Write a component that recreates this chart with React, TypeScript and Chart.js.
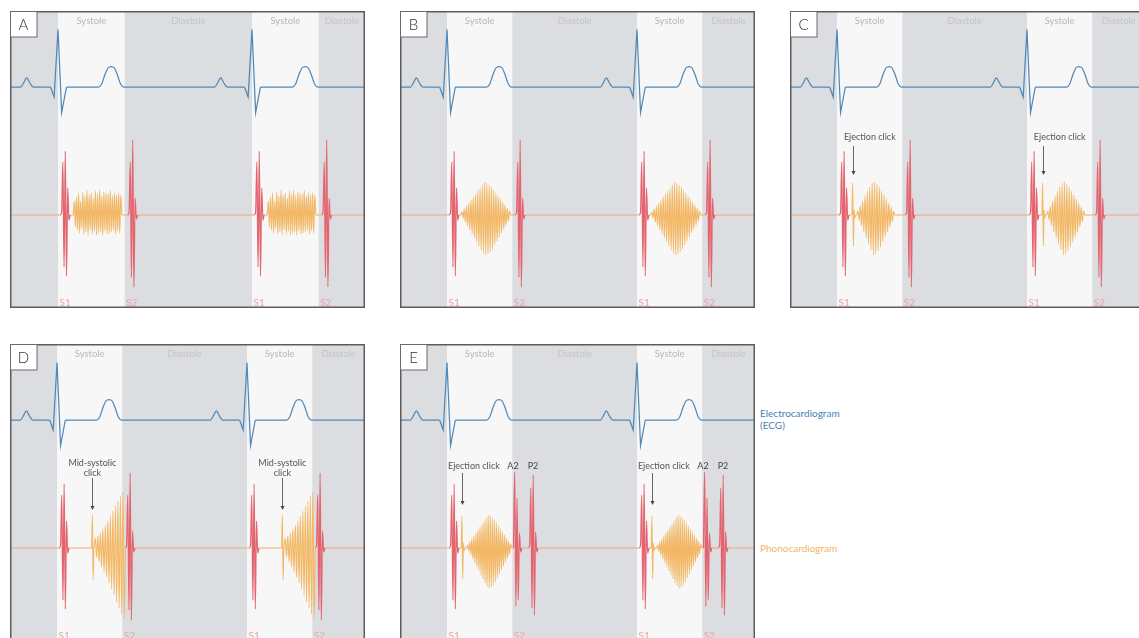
import React, { useEffect, useRef } from "react";
import { Chart, registerables } from "chart.js";
Chart.register(...registerables);

// ---------- time base: ms, 0 = first R peak ----------
const R_PEAK_TIMES = [0, 800];
const SYSTOLE_LENGTH = 275;
const TIME_RANGE_STD = [-198, 1297];
const TIME_RANGE_A = [-198, 1266];

// ---------- ECG template (relative to each R peak) ----------
const ECG_P_TIMES = [-154, -142, -129, -116, -102];
const ECG_P_VALUES = [0, 4, 9.2, 4, 0];
const ECG_QRS_TIMES = [-31, -16, 0, 15, 35];
const ECG_QRS_VALUES = [0, -10, 57.5, -25.5, 0];
const ECG_T_TIMES = [166, 180, 193, 206, 219, 232, 245, 258, 272];
const ECG_T_VALUES = [0, 3, 12, 19, 20.5, 19, 12, 3, 0];

// ---------- phonocardiogram sample sequences ----------
const S1_WAVE = [0, 3, 53, -52, 64, -61, 27, -5, 0];
const S2_WAVE = [0, 3, 53, -62, 75, -72, 17, -4, 0];
const A2_WAVE = [0, 76, -58, 50, -52, 15, -4, 0];
const P2_WAVE = [0, 3, 60, -60, 73, -67, 16, -4, 0];
const EJECTION_CLICK_WAVE = [0, 32, -31, 5, -3, 0];
const MID_SYSTOLIC_CLICK_WAVE = [0, 33, -32, 0];
const MURMUR_PLATEAU = [0, 14, -12, 18, -15, 22, -18, 14, -13, 23, -19, 19, -17, 25, -20, 20, -15, 22, -19, 17, -16, 24, -20, 21, -18, 25, -17, 19, -20, 23, -16, 22, -19, 21, -18, 25, -17, 19, -15, 22, -19, 20, -16, 22, -18, 20, 0];
const MURMUR_DIAMOND = [0, 3, -3, 6, -7, 9, -11, 12, -15, 15, -19, 18, -23, 21, -27, 24, -31, 27, -35, 30, -38, 33, -40, 32, -39, 30, -37, 28, -34, 25, -30, 22, -26, 19, -22, 16, -18, 13, -14, 10, -10, 7, -6, 4, 0];
const MURMUR_DIAMOND_SHORT = [0, 4, -5, 9, -11, 14, -17, 19, -23, 24, -29, 28, -35, 32, -40, 33, -39, 31, -36, 28, -32, 24, -27, 20, -22, 16, -17, 12, -12, 8, -7, 4, 0];
const MURMUR_CRESCENDO = [0, 10, -9, 12, -14, 15, -19, 19, -24, 23, -29, 27, -35, 32, -41, 37, -47, 42, -54, 47, -60, 52, -66, 56, -70, 0];

const WAVES: Record<string, number[]> = {
  S1: S1_WAVE, S2: S2_WAVE, A2: A2_WAVE, P2: P2_WAVE,
  ejectionClick: EJECTION_CLICK_WAVE, midClick: MID_SYSTOLIC_CLICK_WAVE,
  plateau: MURMUR_PLATEAU, diamond: MURMUR_DIAMOND,
  diamondShort: MURMUR_DIAMOND_SHORT, crescendo: MURMUR_CRESCENDO,
};
const HEART_SOUNDS = ["S1", "S2", "A2", "P2"];

// [wave, start ms after R, sample step ms]
const BURSTS_A: [string, number, number][] = [["S1", 10, 5], ["plateau", 63, 4.35], ["S2", 288, 5]];
const BURSTS_B: [string, number, number][] = [["S1", 10, 5], ["diamond", 58, 4.77], ["S2", 288, 5]];
const BURSTS_C: [string, number, number][] = [["S1", 10, 5], ["ejectionClick", 63, 3], ["diamondShort", 83, 5], ["S2", 288, 5]];
const BURSTS_D: [string, number, number][] = [["S1", 10, 5], ["midClick", 146, 3], ["crescendo", 156, 5.28], ["S2", 288, 5]];
const BURSTS_E: [string, number, number][] = [["S1", 10, 5], ["ejectionClick", 60, 3], ["diamond", 83, 4.3], ["A2", 280, 5], ["P2", 343, 5]];

// annotations: text time, text level (phono units), arrow time / from / to
type Note = { lines: string[]; t: number; align: CanvasTextAlign; v: number; arrowT?: number; arrowFrom?: number; arrowTo?: number; dark?: boolean };
const NOTES_C: Note[] = [{ lines: ["Ejection click"], t: 29, align: "left", v: 78, arrowT: 66, arrowFrom: 69, arrowTo: 40 }];
const NOTES_D: Note[] = [{ lines: ["Mid-systolic", "click"], t: 149, align: "center", v: 85, arrowT: 149, arrowFrom: 70, arrowTo: 38 }];
const NOTES_E: Note[] = [
  { lines: ["Ejection click"], t: 4, align: "left", v: 82, arrowT: 63, arrowFrom: 75, arrowTo: 43 },
  { lines: ["A2"], t: 278, align: "center", v: 82, dark: true },
  { lines: ["P2"], t: 362, align: "center", v: 82, dark: true },
];

// ---------- styles ----------
const BAND_GREY = "#dcdde0";
const SYSTOLE_FILL = "#f7f7f7";
const ECG_COLOR = "#5088b8";
const PHONO_BASE = "#f0a870";
const SOUND_RED = "#e3646f";
const MURMUR_ORANGE = "#f2b866";
const FONT = "Lato, 'Noto Sans', sans-serif";
const W = 355;
const H = 297;

type PanelSpec = { letter: string; left: number; top: number; range: number[]; bursts: [string, number, number][]; notes: Note[] };
const PANELS: PanelSpec[] = [
  { letter: "A", left: 10, top: 11, range: TIME_RANGE_A, bursts: BURSTS_A, notes: [] },
  { letter: "B", left: 400, top: 11, range: TIME_RANGE_STD, bursts: BURSTS_B, notes: [] },
  { letter: "C", left: 790, top: 11, range: TIME_RANGE_STD, bursts: BURSTS_C, notes: NOTES_C },
  { letter: "D", left: 10, top: 344, range: TIME_RANGE_STD, bursts: BURSTS_D, notes: NOTES_D },
  { letter: "E", left: 400, top: 344, range: TIME_RANGE_STD, bursts: BURSTS_E, notes: NOTES_E },
];

function buildDatasets(spec: PanelSpec) {
  const far0 = -1000, far1 = 2500;
  const ecgSmooth: any[] = [{ x: far0, y: 0 }];
  const ecgQrs: any[] = [];
  R_PEAK_TIMES.forEach((r, i) => {
    ECG_P_TIMES.forEach((t, k) => ecgSmooth.push({ x: r + t, y: ECG_P_VALUES[k] }));
    ecgSmooth.push({ x: r + ECG_QRS_TIMES[0], y: 0 });
    ecgSmooth.push({ x: r, y: null });
    ecgSmooth.push({ x: r + ECG_QRS_TIMES[ECG_QRS_TIMES.length - 1], y: 0 });
    ECG_T_TIMES.forEach((t, k) => ecgSmooth.push({ x: r + t, y: ECG_T_VALUES[k] }));
    if (i > 0) ecgQrs.push({ x: r - 400, y: null });
    ECG_QRS_TIMES.forEach((t, k) => ecgQrs.push({ x: r + t, y: ECG_QRS_VALUES[k] }));
  });
  ecgSmooth.push({ x: far1, y: 0 });

  const events: { name: string; t0: number; step: number }[] = [];
  R_PEAK_TIMES.forEach((r) => spec.bursts.forEach(([name, start, step]) => events.push({ name, t0: r + start, step })));
  events.sort((a, b) => a.t0 - b.t0);
  const baseline: any[] = [{ x: far0, y: 0 }];
  const burstSets: any[] = [];
  events.forEach((ev) => {
    const w = WAVES[ev.name];
    const end = ev.t0 + ev.step * (w.length - 1);
    baseline.push({ x: ev.t0, y: 0 }, { x: (ev.t0 + end) / 2, y: null }, { x: end, y: 0 });
    const isSound = HEART_SOUNDS.includes(ev.name);
    burstSets.push({
      label: ev.name,
      data: w.map((v, k) => ({ x: ev.t0 + k * ev.step, y: v })),
      yAxisID: "yP",
      borderColor: isSound ? SOUND_RED : MURMUR_ORANGE,
      borderWidth: isSound ? 1.25 : 1.1,
      cubicInterpolationMode: "monotone",
      pointRadius: 0,
      fill: false,
    });
  });
  baseline.push({ x: far1, y: 0 });

  return [
    ...burstSets,
    { label: "phono", data: baseline, yAxisID: "yP", borderColor: PHONO_BASE, borderWidth: 1.2, tension: 0, pointRadius: 0, spanGaps: false },
    { label: "qrs", data: ecgQrs, yAxisID: "yE", borderColor: ECG_COLOR, borderWidth: 1.25, tension: 0, pointRadius: 0, spanGaps: false },
    { label: "ecg", data: ecgSmooth, yAxisID: "yE", borderColor: ECG_COLOR, borderWidth: 1.25, cubicInterpolationMode: "monotone", pointRadius: 0, spanGaps: false },
  ];
}

function makePlugin(spec: PanelSpec) {
  return {
    id: "panelDecor" + spec.letter,
    beforeDatasetsDraw(chart: any) {
      const { ctx, chartArea: a, scales } = chart;
      const x = scales.x;
      ctx.save();
      ctx.fillStyle = BAND_GREY;
      ctx.fillRect(a.left, a.top, a.right - a.left, a.bottom - a.top);
      ctx.font = `9.5px ${FONT}`;
      ctx.textAlign = "center";
      ctx.textBaseline = "middle";
      R_PEAK_TIMES.forEach((r, i) => {
        const x0 = x.getPixelForValue(r);
        const x1 = x.getPixelForValue(r + SYSTOLE_LENGTH);
        ctx.fillStyle = SYSTOLE_FILL;
        ctx.fillRect(x0, a.top, x1 - x0, a.bottom - a.top);
        ctx.fillStyle = "#b8b8b8";
        ctx.fillText("Systole", (x0 + x1) / 2, a.top + 10);
        const next = i + 1 < R_PEAK_TIMES.length ? x.getPixelForValue(R_PEAK_TIMES[i + 1]) : a.right;
        ctx.fillStyle = "#c3c4c8";
        ctx.fillText("Diastole", (x1 + Math.min(next, a.right)) / 2, a.top + 10);
      });
      ctx.restore();
    },
    afterDatasetsDraw(chart: any) {
      const { ctx, chartArea: a, scales } = chart;
      const x = scales.x, yP = scales.yP;
      ctx.save();
      // S1 / S2 labels
      ctx.font = `10px ${FONT}`;
      ctx.textAlign = "left";
      ctx.textBaseline = "middle";
      ctx.fillStyle = "#eca2a9";
      R_PEAK_TIMES.forEach((r) => {
        ctx.fillText("S1", x.getPixelForValue(r) + 1.5, yP.getPixelForValue(-88));
        ctx.fillText("S2", x.getPixelForValue(r + SYSTOLE_LENGTH) + 1.5, yP.getPixelForValue(-88));
      });
      // annotations
      R_PEAK_TIMES.forEach((r) => {
        spec.notes.forEach((n) => {
          ctx.font = `9px ${FONT}`;
          ctx.textAlign = n.align;
          ctx.fillStyle = n.dark ? "#444" : "#555";
          n.lines.forEach((line, li) => {
            ctx.fillText(line, x.getPixelForValue(r + n.t), yP.getPixelForValue(n.v - li * 10));
          });
          if (n.arrowT !== undefined) {
            const ax = Math.round(x.getPixelForValue(r + n.arrowT)) + 0.5;
            const yTop = yP.getPixelForValue(n.arrowFrom!);
            const yTip = yP.getPixelForValue(n.arrowTo!);
            ctx.strokeStyle = "#555";
            ctx.lineWidth = 0.9;
            ctx.beginPath();
            ctx.moveTo(ax, yTop);
            ctx.lineTo(ax, yTip - 3);
            ctx.stroke();
            ctx.fillStyle = "#444";
            ctx.beginPath();
            ctx.moveTo(ax - 2, yTip - 4);
            ctx.lineTo(ax + 2, yTip - 4);
            ctx.lineTo(ax, yTip);
            ctx.closePath();
            ctx.fill();
          }
        });
      });
      // border
      ctx.strokeStyle = "#5c5c5c";
      ctx.lineWidth = 1.5;
      ctx.strokeRect(a.left + 0.75, a.top + 0.75, a.right - a.left - 1.5, a.bottom - a.top - 1.5);
      // letter box
      ctx.fillStyle = "#ffffff";
      ctx.fillRect(a.left + 1, a.top + 1, 26, 25);
      ctx.strokeStyle = "#6a6a6a";
      ctx.lineWidth = 1;
      ctx.strokeRect(a.left + 0.5, a.top + 0.5, 26.5, 25.5);
      ctx.fillStyle = "#333";
      ctx.font = `300 15px ${FONT}`;
      ctx.textAlign = "center";
      ctx.textBaseline = "middle";
      ctx.fillText(spec.letter, a.left + 13.5, a.top + 14);
      ctx.restore();
    },
  };
}

function Panel({ spec }: { spec: PanelSpec }) {
  const ref = useRef<HTMLCanvasElement>(null);
  useEffect(() => {
    if (!ref.current) return;
    const chart = new Chart(ref.current, {
      type: "line",
      data: { datasets: buildDatasets(spec) as any },
      options: {
        animation: false,
        responsive: false,
        events: [],
        layout: { padding: 0 },
        plugins: { legend: { display: false }, tooltip: { enabled: false } },
        scales: {
          x: { type: "linear", min: spec.range[0], max: spec.range[1], display: false },
          yE: { type: "linear", min: -221, max: 76, display: false },
          yP: { type: "linear", min: -93, max: 204, display: false },
        },
        elements: { point: { radius: 0 } },
      } as any,
      plugins: [makePlugin(spec)],
    });
    return () => chart.destroy();
  }, [spec]);
  return (
    <canvas
      ref={ref}
      width={W}
      height={H}
      style={{ position: "absolute", left: spec.left, top: spec.top, width: W, height: H }}
    />
  );
}

export default function App() {
  return (
    <div style={{ position: "fixed", left: 0, top: 0, width: "100vw", height: "100vh", overflow: "hidden", background: "#fff" }}>
      {PANELS.map((p) => (
        <Panel key={p.letter} spec={p} />
      ))}
      <div style={{ position: "absolute", left: 760, top: 407, font: `10px ${FONT}`, lineHeight: "12px", color: "#4a80b0" }}>
        Electrocardiogram
        <br />
        (ECG)
      </div>
      <div style={{ position: "absolute", left: 760, top: 542, font: `10px ${FONT}`, lineHeight: "12px", color: "#f0b462" }}>
        Phonocardiogram
      </div>
    </div>
  );
}
